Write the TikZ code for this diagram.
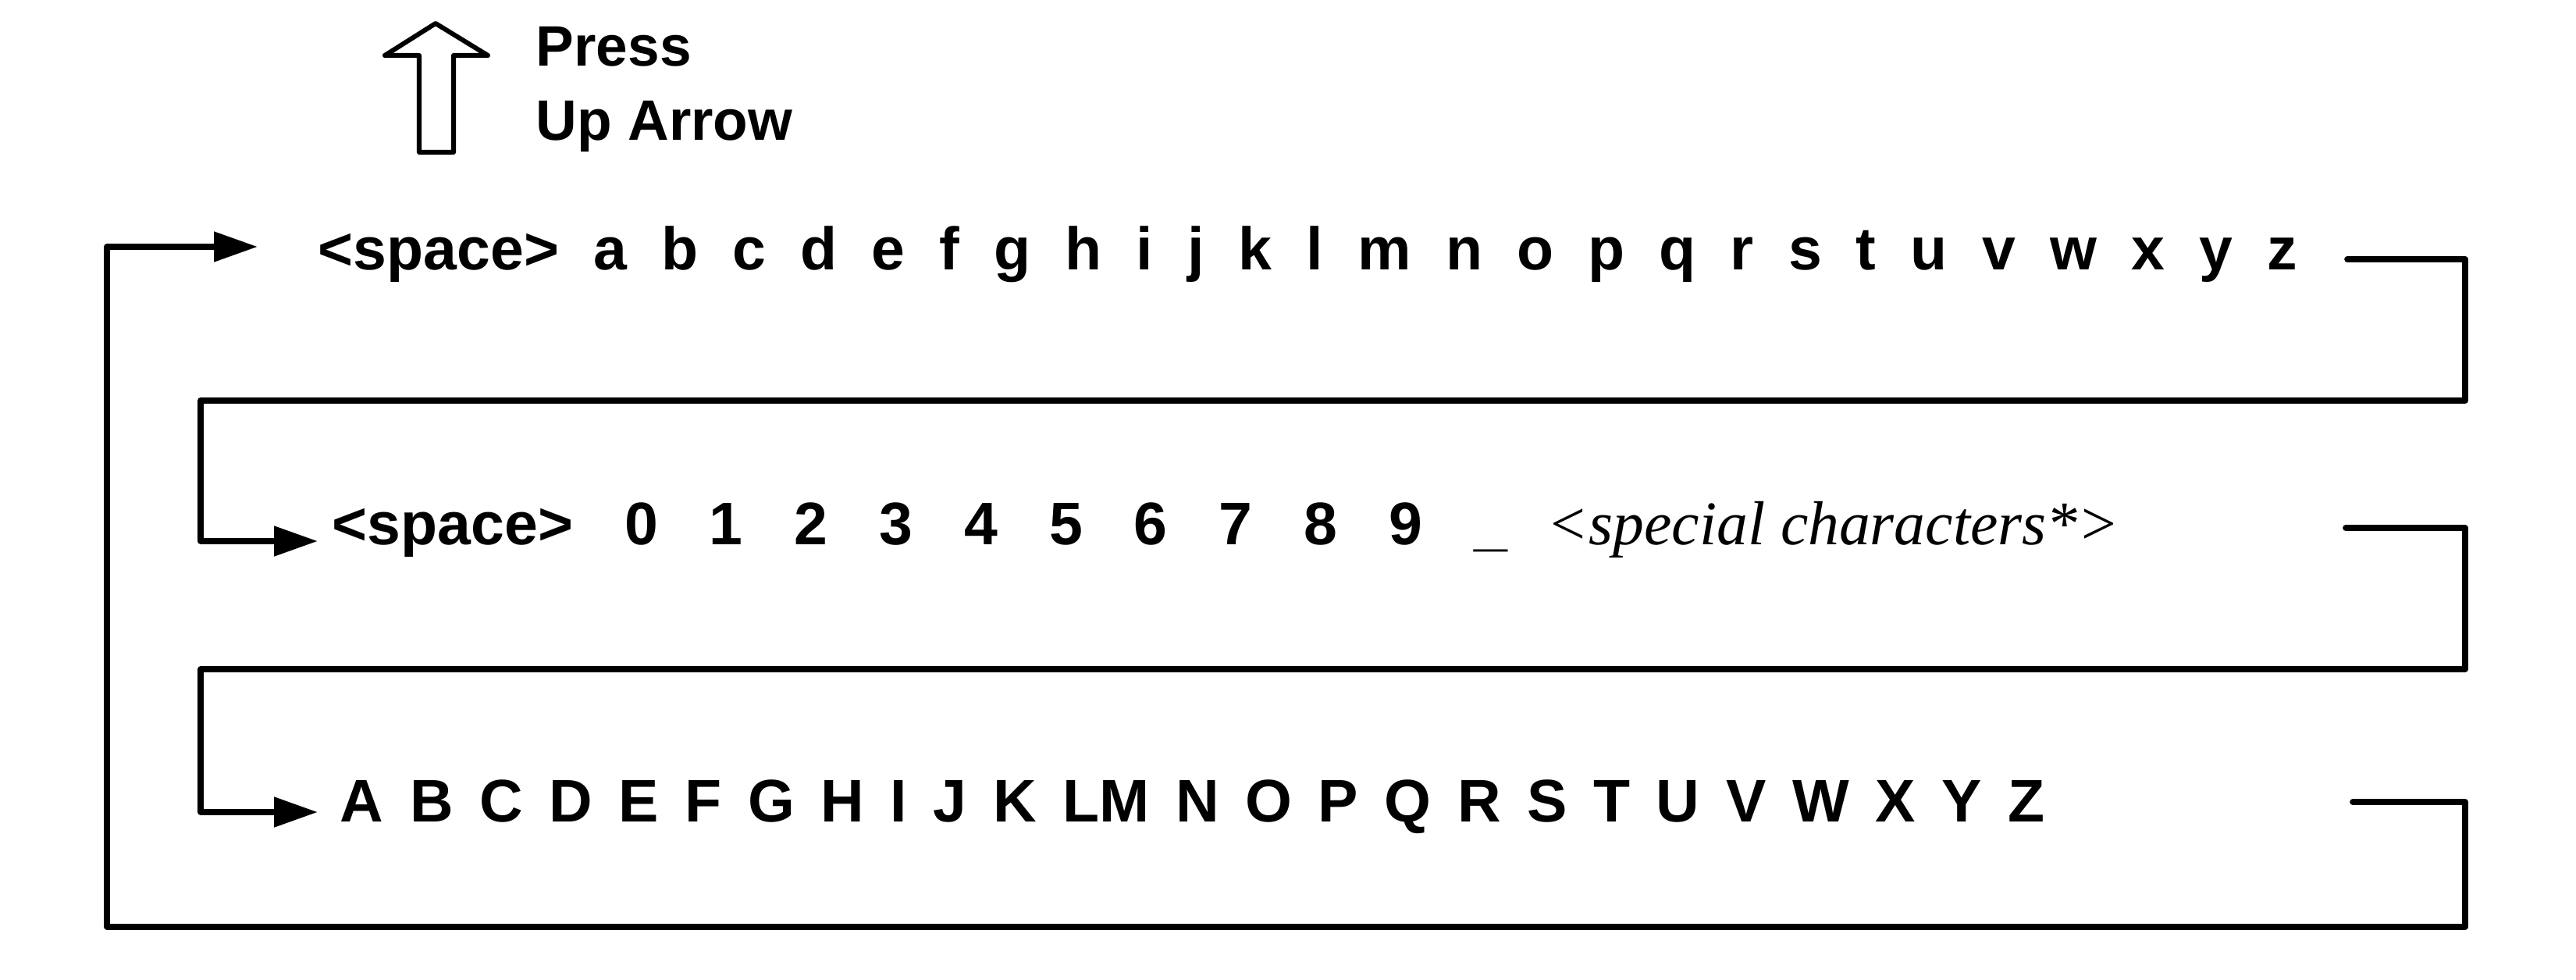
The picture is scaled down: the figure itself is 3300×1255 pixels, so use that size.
\documentclass[tikz,border=0pt]{standalone}
\usepackage{fontspec}
\setmainfont{Liberation Sans}
\newfontfamily\seriffam{Liberation Serif}
\usetikzlibrary{arrows.meta}
\begin{document}
\begin{tikzpicture}[x=0.24pt,y=-0.24pt,
  conn/.style={line width=1.85pt, line cap=round, line join=round},
  tipend/.style={-{Triangle[length=13.4pt,width=8.9pt]}},
  rowtext/.style={anchor=base west, inner sep=0pt, font=\fontsize{18.48pt}{20pt}\selectfont\bfseries},
  labeltext/.style={anchor=base west, inner sep=0pt, font=\fontsize{17.52pt}{20pt}\selectfont\bfseries},
  spc/.style={execute at begin node={\spaceskip=#1\relax}},
]
\useasboundingbox (0,0) rectangle (3300,1255);

% up arrow symbol
\draw[line width=1.45pt, line join=round]
  (558,30) -- (625,71) -- (581,71) -- (581,195) -- (537,195) -- (537,71) -- (493,71) -- cycle;
\node[labeltext] (press) at (686,85) {Press};
\node[labeltext] (uparrow) at (686,180) {Up Arrow};

% rows
\node[rowtext, spc=10.6pt] (row1) at (407,346)
  {<space> a b c d e f g h i j k l m n o p q r s t u v w x y z};
\node[rowtext, spc=15.84pt] (row2) at (425,698)
  {<space> 0 1 2 3 4 5 6 7 8 9 \_\hspace{12.2pt}{\spaceskip=0pt\seriffam\mdseries\itshape\fontsize{19.1pt}{20pt}\selectfont <special characters*>}};
\node[rowtext, spc=8.06pt] (row3) at (435,1052)
  {A B C D E F G H I J K LM N O P Q R S T U V W X Y Z};

% connector coordinates
\coordinate (r1out) at (3007,332);
\coordinate (r1turn) at (3158,513);
\coordinate (r1left) at (257,513);
\coordinate (in2) at (407,693);

\coordinate (r2out) at (3005,676);
\coordinate (r2turn) at (3158,857);
\coordinate (r2left) at (257,857);
\coordinate (in3) at (407,1040);

\coordinate (r3out) at (3014,1027);
\coordinate (r3turn) at (3158,1187);
\coordinate (r3left) at (137,1187);
\coordinate (in1) at (330,316);

\draw[conn, tipend] (r1out) -| (r1turn) -- (r1left) |- (in2);
\draw[conn, tipend] (r2out) -| (r2turn) -- (r2left) |- (in3);
\draw[conn, tipend] (r3out) -| (r3turn) -- (r3left) |- (in1);
\end{tikzpicture}
\end{document}
